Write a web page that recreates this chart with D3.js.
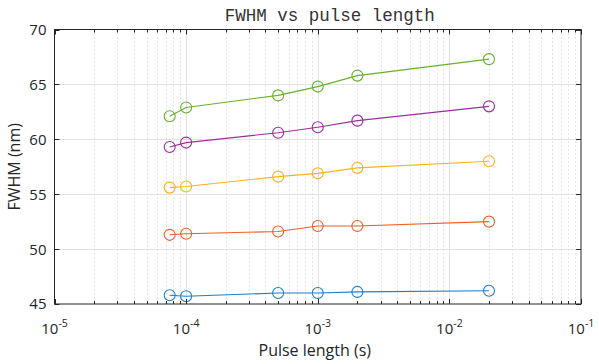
<!DOCTYPE html>
<html><head><meta charset="utf-8">
<script src="https://d3js.org/d3.v7.min.js"></script>
<style>body{margin:0;background:#fff}svg{display:block}</style>
</head><body>
<script>
const pulseLengths = [7.5e-5, 1e-4, 5e-4, 1e-3, 2e-3, 2e-2];
const seriesBlue   = [45.8, 45.7, 46.0, 46.0, 46.1, 46.2];
const seriesOrange = [51.3, 51.4, 51.6, 52.1, 52.1, 52.5];
const seriesYellow = [55.6, 55.7, 56.6, 56.9, 57.4, 58.0];
const seriesPurple = [59.3, 59.7, 60.6, 61.1, 61.7, 63.0];
const seriesGreen  = [62.1, 62.9, 64.0, 64.8, 65.8, 67.3];
const xTickExps = [-5, -4, -3, -2, -1];
const yTicks = [45, 50, 55, 60, 65, 70];
const titleText = "FWHM vs pulse length";
const xLabel = "Pulse length (s)";
const yLabel = "FWHM (nm)";

const series = [
  {v: seriesBlue, c: "#1b7fcf"},
  {v: seriesOrange, c: "#f25f22"},
  {v: seriesYellow, c: "#fbb21c"},
  {v: seriesPurple, c: "#9a2f9c"},
  {v: seriesGreen, c: "#67b12c"}
];

const W = 599, H = 364;
const m = {l: 54.5, r: 18, t: 29.5, b: 60};
const svg = d3.select("body").append("svg").attr("width", W).attr("height", H);
const x = d3.scaleLog().domain([1e-5, 1e-1]).range([m.l, W - m.r]);
const y = d3.scaleLinear().domain([45, 70]).range([H - m.b, m.t]);
const x0 = m.l, x1 = W - m.r, y0 = H - m.b, y1 = m.t;

const minors = [];
for (let e = -5; e < -1; e++) for (let k = 2; k <= 9; k++) minors.push(k * Math.pow(10, e));
const majors = xTickExps.map(e => Math.pow(10, e));

const g = svg.append("g");
g.selectAll(".mg").data(minors).enter().append("line")
  .attr("x1", d => Math.round(x(d)) + 0.5).attr("x2", d => Math.round(x(d)) + 0.5)
  .attr("y1", y1).attr("y2", y0)
  .attr("stroke", "#cfcfcf").attr("stroke-width", 1).attr("stroke-dasharray", "1,3");
g.selectAll(".Mg").data(majors.slice(1, -1)).enter().append("line")
  .attr("x1", d => Math.round(x(d)) + 0.5).attr("x2", d => Math.round(x(d)) + 0.5)
  .attr("y1", y1).attr("y2", y0).attr("stroke", "#e3e3e3");
g.selectAll(".yg").data(yTicks.slice(1, -1)).enter().append("line")
  .attr("x1", x0).attr("x2", x1)
  .attr("y1", d => Math.round(y(d)) + 0.5).attr("y2", d => Math.round(y(d)) + 0.5)
  .attr("stroke", "#e3e3e3");

const line = d3.line().x((d, i) => x(pulseLengths[i])).y(d => y(d));
series.forEach(s => {
  svg.append("path").datum(s.v).attr("d", line).attr("fill", "none")
    .attr("stroke", s.c).attr("stroke-width", 1.1);
  svg.selectAll(null).data(s.v).enter().append("circle")
    .attr("cx", (d, i) => x(pulseLengths[i])).attr("cy", d => y(d)).attr("r", 5.5)
    .attr("fill", "none").attr("stroke", s.c).attr("stroke-width", 1.1);
});

const ax = "#262626";
svg.append("rect").attr("x", x0).attr("y", y1).attr("width", x1 - x0).attr("height", y0 - y1)
  .attr("fill", "none").attr("stroke", ax).attr("stroke-width", 1);

const tk = svg.append("g").attr("stroke", ax).attr("stroke-width", 1);
majors.forEach(d => {
  const px = Math.round(x(d)) + 0.5;
  tk.append("line").attr("x1", px).attr("x2", px).attr("y1", y0).attr("y2", y0 - 5);
  tk.append("line").attr("x1", px).attr("x2", px).attr("y1", y1).attr("y2", y1 + 5);
});
minors.forEach(d => {
  const px = Math.round(x(d)) + 0.5;
  tk.append("line").attr("x1", px).attr("x2", px).attr("y1", y0).attr("y2", y0 - 3);
  tk.append("line").attr("x1", px).attr("x2", px).attr("y1", y1).attr("y2", y1 + 3);
});
yTicks.forEach(d => {
  const py = Math.round(y(d)) + 0.5;
  tk.append("line").attr("x1", x0).attr("x2", x0 + 5).attr("y1", py).attr("y2", py);
  tk.append("line").attr("x1", x1).attr("x2", x1 - 5).attr("y1", py).attr("y2", py);
});

const font = "'Open Sans', 'Noto Sans', sans-serif";
svg.selectAll(".yl").data(yTicks).enter().append("text")
  .attr("x", x0 - 8).attr("y", d => y(d)).attr("dy", "0.36em")
  .attr("text-anchor", "end").attr("font-family", font).attr("font-size", 15)
  .attr("fill", ax).text(d => d);
xTickExps.forEach(e => {
  const t = svg.append("text").attr("x", x(Math.pow(10, e))).attr("y", y0 + 30)
    .attr("text-anchor", "middle").attr("font-family", font).attr("font-size", 15).attr("fill", ax);
  t.append("tspan").text("10");
  t.append("tspan").attr("dy", -7).attr("font-size", 10.5).text(String(e));
});

svg.append("text").attr("x", (x0 + x1) / 2 - 3).attr("y", 356).attr("text-anchor", "middle")
  .attr("font-family", font).attr("font-size", 16).attr("fill", ax).text(xLabel);
svg.append("text").attr("transform", `translate(20,${(y0 + y1) / 2}) rotate(-90)`)
  .attr("text-anchor", "middle").attr("font-family", font).attr("font-size", 16)
  .attr("fill", ax).text(yLabel);
svg.append("text").attr("x", (x0 + x1) / 2 + 12).attr("y", 21).attr("text-anchor", "middle")
  .attr("font-family", "'Liberation Mono', 'DejaVu Sans Mono', monospace").attr("font-size", 17.5)
  .attr("fill", "#333").text(titleText);
</script>
</body></html>
